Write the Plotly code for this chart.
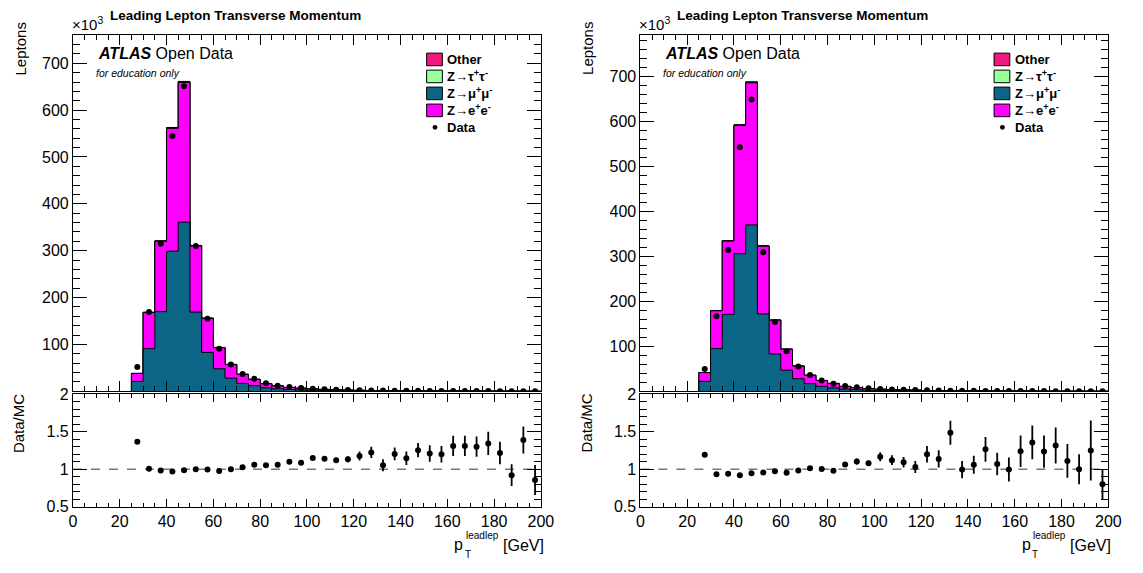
import plotly.graph_objects as go

# ---------------- data (thousands of leptons per 5 GeV bin, 25-200 GeV) ----------------
bin_edges = list(range(25, 205, 5))
bin_centers = [e + 2.5 for e in bin_edges[:-1]]

# left figure
L_data = [52, 169, 315, 545, 651, 310, 155, 91, 57, 37, 27, 17, 12, 9, 7, 5.5, 4.4, 3.5, 2.8, 2.3,
          1.9, 1.5, 1.25, 1.05, 0.9, 0.75, 0.63, 0.54, 0.46, 0.40, 0.34, 0.30, 0.26, 0.22, 0.19]
L_zmumu = [21, 91, 170, 299, 361, 169, 83, 48, 28, 17, 12, 7.5, 5.3, 3.8, 3.0, 2.2, 1.8, 1.4, 1.1, 0.9,
           0.7, 0.65, 0.48, 0.42, 0.33, 0.28, 0.24, 0.19, 0.16, 0.14, 0.11, 0.11, 0.13, 0.07, 0.10]
L_zee = [17, 77, 150, 262, 298, 141, 72.5, 45, 29, 19, 13.4, 8.6, 6.0, 4.4, 3.4, 2.6, 2.1, 1.7, 1.4, 1.05,
         0.85, 0.77, 0.56, 0.50, 0.39, 0.34, 0.29, 0.22, 0.19, 0.17, 0.14, 0.14, 0.15, 0.09, 0.12]
L_ztautau = [0.1, 0.4, 0.7, 1.1, 1.3, 0.7, 0.4, 0.3, 0.2, 0.15, 0.1, 0.08, 0.06, 0.05, 0.04, 0.03, 0.03, 0.02,
             0.02, 0.02, 0.01, 0.01, 0.01, 0.01, 0.01, 0.01, 0.01, 0.01, 0.01, 0.01, 0.01, 0.01, 0.01, 0.01, 0.01]
L_other = [0.2, 0.4, 0.6, 0.9, 1.0, 0.6, 0.4, 0.3, 0.25, 0.2, 0.15, 0.12, 0.1, 0.08, 0.07, 0.06, 0.05, 0.04,
           0.04, 0.03, 0.03, 0.03, 0.02, 0.02, 0.02, 0.02, 0.02, 0.02, 0.01, 0.01, 0.01, 0.01, 0.01, 0.01, 0.01]
L_ratio = [1.366, 1.006, 0.984, 0.971, 0.988, 1.0, 0.997, 0.976, 1.0, 1.027, 1.061, 1.053, 1.061, 1.10, 1.087,
           1.151, 1.139, 1.121, 1.134, 1.177, 1.224, 1.053, 1.203, 1.147, 1.254, 1.211, 1.199, 1.31, 1.31,
           1.30, 1.344, 1.216, 0.92, 1.391, 0.856]
L_ratio_err = [0.01, 0.005, 0.004, 0.003, 0.003, 0.004, 0.005, 0.007, 0.009, 0.011, 0.013, 0.016, 0.019,
               0.022, 0.025, 0.03, 0.032, 0.035, 0.04, 0.06, 0.075, 0.08, 0.085, 0.09, 0.095, 0.11, 0.11,
               0.135, 0.135, 0.135, 0.155, 0.15, 0.145, 0.18, 0.2]

# right figure
R_data = [49.5, 167, 314, 543, 649, 309, 154, 89, 55, 36, 24, 17, 11.5, 8.7, 6.6, 5.2, 4.1, 3.3, 2.6, 2.1,
          1.7, 1.4, 1.15, 0.95, 0.8, 0.68, 0.58, 0.49, 0.42, 0.36, 0.31, 0.27, 0.23, 0.2, 0.17]
R_zmumu = [22, 95, 171, 306, 370, 172, 83, 47, 28, 17, 11, 7.5, 4.8, 3.5, 2.7, 2.0, 1.6, 1.3, 1.1, 0.75,
           0.65, 0.4, 0.5, 0.38, 0.27, 0.27, 0.25, 0.17, 0.13, 0.12, 0.10, 0.10, 0.10, 0.07, 0.09]
R_zee = [19.5, 84, 163, 285, 316, 150.5, 75, 46.4, 28, 18.5, 12.9, 9.9, 6.0, 4.4, 3.4, 2.46, 2.06, 1.7, 1.42,
         1.0, 0.85, 0.54, 0.65, 0.52, 0.36, 0.37, 0.33, 0.23, 0.18, 0.17, 0.14, 0.14, 0.13, 0.09, 0.12]
R_ztautau = [0.1, 0.4, 0.7, 1.1, 1.3, 0.7, 0.4, 0.3, 0.2, 0.15, 0.1, 0.08, 0.06, 0.05, 0.04, 0.03, 0.03, 0.02,
             0.02, 0.02, 0.01, 0.01, 0.01, 0.01, 0.01, 0.01, 0.01, 0.01, 0.01, 0.01, 0.01, 0.01, 0.01, 0.01, 0.01]
R_other = [0.2, 0.4, 0.6, 0.9, 1.0, 0.6, 0.4, 0.3, 0.25, 0.2, 0.15, 0.12, 0.1, 0.08, 0.07, 0.06, 0.05, 0.04,
           0.04, 0.03, 0.03, 0.03, 0.02, 0.02, 0.02, 0.02, 0.02, 0.02, 0.01, 0.01, 0.01, 0.01, 0.01, 0.01, 0.01]
R_ratio = [1.194, 0.933, 0.94, 0.919, 0.946, 0.958, 0.974, 0.953, 0.983, 1.013, 1.004, 0.979, 1.064, 1.103,
           1.081, 1.167, 1.12, 1.094, 1.03, 1.20, 1.137, 1.486, 0.996, 1.06, 1.266, 1.069, 0.996, 1.24,
           1.357, 1.236, 1.317, 1.111, 1.0, 1.249, 0.80]
R_ratio_err = [0.01, 0.006, 0.004, 0.003, 0.003, 0.004, 0.006, 0.008, 0.011, 0.014, 0.017, 0.02, 0.025,
               0.04, 0.035, 0.06, 0.065, 0.07, 0.08, 0.11, 0.115, 0.16, 0.115, 0.12, 0.165, 0.15, 0.16,
               0.21, 0.225, 0.215, 0.24, 0.225, 0.2, 0.40, 0.2]

TITLE = "Leading Lepton Transverse Momentum"
C_OTHER, C_TAU, C_MUMU, C_EE = "#f0187c", "#99ff99", "#0b6585", "#ff00ff"
W, H = 1143, 573
FONT = "Liberation Sans, Arial, sans-serif"


def px(x):
    return x / W


def py(y):
    return 1 - y / H


def step_xy(values):
    xs, ys = [bin_edges[0]], [0]
    for i, v in enumerate(values):
        xs += [bin_edges[i], bin_edges[i + 1]]
        ys += [v, v]
    xs.append(bin_edges[-1])
    ys.append(0)
    return xs, ys


fig = go.Figure()
panels = [
    dict(data=L_data, mumu=L_zmumu, ee=L_zee, tau=L_ztautau, oth=L_other, ratio=L_ratio,
         rerr=L_ratio_err, ax="", rax="2", x0=70, x1=545, ymax=760),
    dict(data=R_data, mumu=R_zmumu, ee=R_zee, tau=R_ztautau, oth=R_other, ratio=R_ratio,
         rerr=R_ratio_err, ax="3", rax="4", x0=646, x1=1121, ymax=792),
]


def ann(text, x, y, size, xanchor="left", yanchor="middle", angle=0):
    return dict(text=text, x=px(x), y=py(y), xref="paper", yref="paper", showarrow=False,
                xanchor=xanchor, yanchor=yanchor, textangle=angle, borderpad=0,
                font=dict(size=size, color="black", family=FONT))


annotations = []
shapes = []
for p in panels:
    c1 = p["mumu"]
    c2 = [a + b for a, b in zip(c1, p["ee"])]
    c3 = [a + b for a, b in zip(c2, p["tau"])]
    c4 = [a + b for a, b in zip(c3, p["oth"])]
    xa = "x" + p["ax"]
    ya = "y" + p["ax"]
    for vals, col in [(c4, C_OTHER), (c3, C_TAU), (c2, C_EE), (c1, C_MUMU)]:
        xs, ys = step_xy(vals)
        fig.add_trace(go.Scatter(x=xs, y=ys, mode="lines", fill="toself", fillcolor=col,
                                 line=dict(color="black", width=1), xaxis=xa, yaxis=ya,
                                 showlegend=False, hoverinfo="skip"))
    fig.add_trace(go.Scatter(x=bin_centers, y=p["data"], mode="markers",
                             marker=dict(color="black", size=6), xaxis=xa, yaxis=ya, showlegend=False))
    rxa = "x" + p["rax"]
    rya = "y" + p["rax"]
    fig.add_trace(go.Scatter(x=bin_centers, y=p["ratio"], mode="markers",
                             marker=dict(color="black", size=6),
                             error_y=dict(type="data", array=p["rerr"], color="black", thickness=1.8, width=0),
                             xaxis=rxa, yaxis=rya, showlegend=False))
    shapes.append(dict(type="line", xref=rxa, yref=rya, x0=0, x1=200, y0=1, y1=1,
                       line=dict(color="#777777", width=1.3, dash="dash"), layer="below"))

    x0, x1 = p["x0"], p["x1"]
    annotations.append(ann("<b>" + TITLE + "</b>", x0 + 165, -1, 13.5, xanchor="center", yanchor="top"))
    annotations.append(ann("×10<sup>3</sup>", x0 - 2, 27, 15, yanchor="bottom"))
    annotations.append(ann("Leptons", x0 - 53, 42, 15, xanchor="center", angle=-90))
    annotations.append(ann("Data/MC", x0 - 55, 428, 15, xanchor="center", angle=-90))
    annotations.append(ann("<b><i>ATLAS</i></b> Open Data", x0 + 24, 47, 16))
    annotations.append(ann("<i>for education only</i>", x0 + 22, 67, 10.5))
    # x title p_T^leadlep [GeV]
    annotations.append(ann("p", x1 - 89, 553, 16))
    annotations.append(ann("leadlep", x1 - 77, 544, 10))
    annotations.append(ann("T", x1 - 78, 563, 10))
    annotations.append(ann("[GeV]", x1 + 4, 554, 16, xanchor="right"))
    # legend
    leg = [("Other", C_OTHER), ("Z→τ<sup>+</sup>τ<sup>-</sup>", C_TAU), ("Z→μ<sup>+</sup>μ<sup>-</sup>", C_MUMU),
           ("Z→e<sup>+</sup>e<sup>-</sup>", C_EE), ("Data", None)]
    for i, (lab, col) in enumerate(leg):
        yc = 53 + i * 17.5
        if col:
            shapes.append(dict(type="rect", xref="paper", yref="paper", x0=px(x0 + 359), x1=px(x0 + 375),
                               y0=py(yc - 6.5), y1=py(yc + 6.5), fillcolor=col,
                               line=dict(color="black", width=1)))
        else:
            shapes.append(dict(type="circle", xref="paper", yref="paper", x0=px(x0 + 365), x1=px(x0 + 370),
                               y0=py(yc - 2.5), y1=py(yc + 2.5), fillcolor="black",
                               line=dict(color="black", width=0)))
        annotations.append(ann("<b>" + lab + "</b>", x0 + 379, yc, 13))

axis_common = dict(showline=True, linecolor="black", linewidth=1, mirror="ticks", ticks="inside",
                   tickcolor="black", showgrid=False, zeroline=False,
                   tickfont=dict(size=16, color="black", family=FONT))

layout = dict(width=W, height=H, margin=dict(l=0, r=0, t=0, b=0), paper_bgcolor="white",
              plot_bgcolor="white", showlegend=False, annotations=annotations, shapes=shapes)

for p in panels:
    dom_x = [px(p["x0"]), px(p["x1"])]
    k = p["ax"]
    rk = p["rax"]
    layout["xaxis" + k] = dict(axis_common, domain=dom_x, range=[0, 200], anchor="y" + k,
                               showticklabels=False, dtick=20, ticklen=10,
                               minor=dict(dtick=5, ticklen=5, ticks="inside", tickcolor="black"))
    layout["yaxis" + k] = dict(axis_common, domain=[py(395), py(28)], range=[0, p["ymax"]], anchor="x" + k,
                               tickvals=[100, 200, 300, 400, 500, 600, 700], ticklen=14,
                               minor=dict(dtick=20, ticklen=7, ticks="inside", tickcolor="black"))
    layout["xaxis" + rk] = dict(axis_common, domain=dom_x, range=[0, 200], anchor="y" + rk,
                                dtick=20, ticklen=8,
                                minor=dict(dtick=5, ticklen=4, ticks="inside", tickcolor="black"))
    layout["yaxis" + rk] = dict(axis_common, domain=[py(514), py(398)], range=[0.5, 2], anchor="x" + rk,
                                tickvals=[0.5, 1, 1.5, 2], ticktext=["0.5", "1", "1.5", "2"], ticklen=14,
                                minor=dict(dtick=0.1, ticklen=7, ticks="inside", tickcolor="black"))

fig.update_layout(**layout)
fig.write_html("out.html")
